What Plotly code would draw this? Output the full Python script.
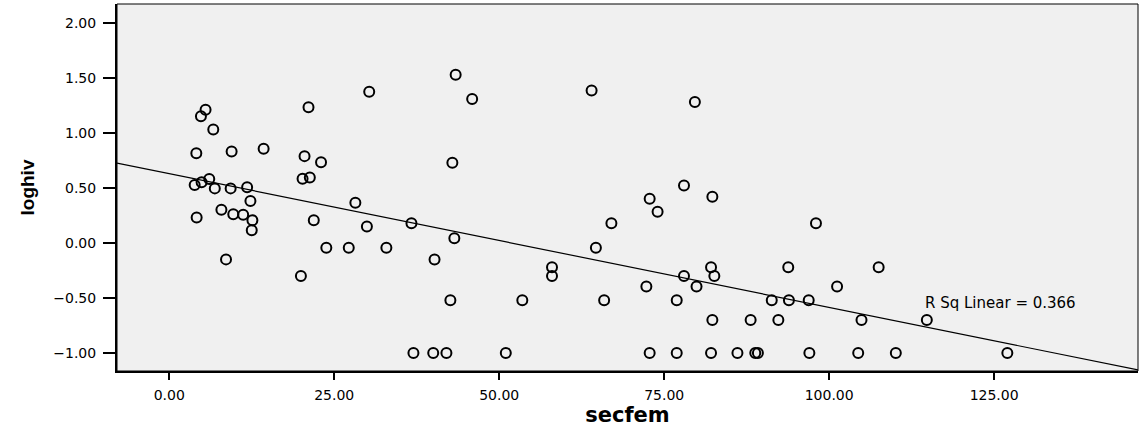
import plotly.graph_objects as go

# secfem (x) and loghiv (y) values
secfem = [5.5, 4.8, 6.67, 4.1, 9.45, 14.3, 6.06, 4.9, 3.85, 6.9, 9.3, 11.8, 12.3, 4.15, 7.9, 9.7,
          11.2, 12.6, 12.5, 8.6, 19.95,
          43.4, 30.3, 45.9, 21.1, 20.5, 23.0, 42.9, 20.2, 21.3, 28.2, 21.9, 29.95, 36.7, 43.2,
          23.8, 27.2, 32.9, 40.2, 58.0, 58.0, 42.6, 53.5, 37.0, 40.0, 42.0, 51.0,
          64.0, 79.65, 78.0, 72.8, 82.3, 74.0, 67.0, 98.0, 64.65, 82.1, 93.8, 78.0, 82.6, 72.3,
          79.9, 101.2, 65.9, 76.9, 91.3, 93.9, 96.9, 82.3, 88.1, 92.3, 104.9, 72.8, 76.9, 82.1,
          86.1, 88.8, 89.2, 97.0,
          107.5, 114.8, 104.4, 110.1, 127.0]
loghiv = [1.21, 1.15, 1.03, 0.815, 0.83, 0.855, 0.58, 0.55, 0.525, 0.495, 0.495, 0.505, 0.38, 0.23,
          0.30, 0.26, 0.255, 0.205, 0.115, -0.15, -0.30,
          1.527, 1.373, 1.306, 1.233, 0.788, 0.733, 0.727, 0.582, 0.594, 0.364, 0.206, 0.148,
          0.179, 0.043, -0.045, -0.045, -0.045, -0.152, -0.221, -0.30, -0.521, -0.521,
          -1.0, -1.0, -1.0, -1.0,
          1.385, 1.279, 0.521, 0.40, 0.418, 0.282, 0.179, 0.179, -0.045, -0.221, -0.221, -0.30,
          -0.30, -0.397, -0.397, -0.397, -0.521, -0.521, -0.521, -0.521, -0.521, -0.70, -0.70,
          -0.70, -0.70, -1.0, -1.0, -1.0, -1.0, -1.0, -1.0, -1.0,
          -0.221, -0.70, -1.0, -1.0, -1.0]

# Linear fit as shown in the chart
fit_intercept = 0.629
fit_slope = -0.01215
r_sq_label = "R Sq Linear = 0.366"

x_range = [-7.92, 146.8]
y_range = [-1.164, 2.17]
x_ticks = [0, 25, 50, 75, 100, 125]
y_ticks = [-1.0, -0.5, 0.0, 0.5, 1.0, 1.5, 2.0]

fit_x = x_range
fit_y = [fit_intercept + fit_slope * v for v in fit_x]

fig = go.Figure()
fig.add_trace(go.Scatter(
    x=fit_x, y=fit_y, mode="lines",
    line=dict(color="black", width=1.2), hoverinfo="skip"))
fig.add_trace(go.Scatter(
    x=secfem, y=loghiv, mode="markers",
    marker=dict(symbol="circle-open", size=10, color="black", line=dict(width=2))))

fig.add_annotation(
    x=114.2, y=-0.543, xref="x", yref="y", text=r_sq_label, showarrow=False,
    xanchor="left", yanchor="middle",
    font=dict(family="DejaVu Sans", size=15, color="black"))

fig.add_shape(type="rect", xref="paper", yref="paper", x0=0, x1=1, y0=0, y1=1,
              line=dict(color="black", width=1), layer="above")

fig.update_layout(
    width=1140, height=427,
    margin=dict(l=117, r=2, t=4, b=56),
    paper_bgcolor="white", plot_bgcolor="#F0F0F0",
    showlegend=False,
    xaxis=dict(
        range=x_range, tickvals=x_ticks, tickformat=".2f",
        showgrid=False, zeroline=False,
        showline=True, linecolor="black", linewidth=2,
        ticks="outside", ticklen=7, tickwidth=2, tickcolor="black",
        tickfont=dict(family="DejaVu Sans", size=14, color="black"),
        ticklabelstandoff=3,
        title=dict(text="<b>secfem</b>", standoff=4,
                   font=dict(family="DejaVu Sans", size=21, color="black")),
        automargin=False),
    yaxis=dict(
        range=y_range, tickvals=y_ticks, tickformat=".2f",
        showgrid=False, zeroline=False,
        showline=True, linecolor="black", linewidth=2,
        ticks="outside", ticklen=12, tickwidth=2, tickcolor="black",
        tickfont=dict(family="DejaVu Sans", size=14, color="black"),
        ticklabelstandoff=4,
        title=dict(text="<b>loghiv</b>", standoff=14,
                   font=dict(family="Liberation Sans", size=19, color="black")),
        automargin=False),
)

fig.write_html("out.html", config={"displayModeBar": False},
               post_script="document.body.style.margin='0';")
